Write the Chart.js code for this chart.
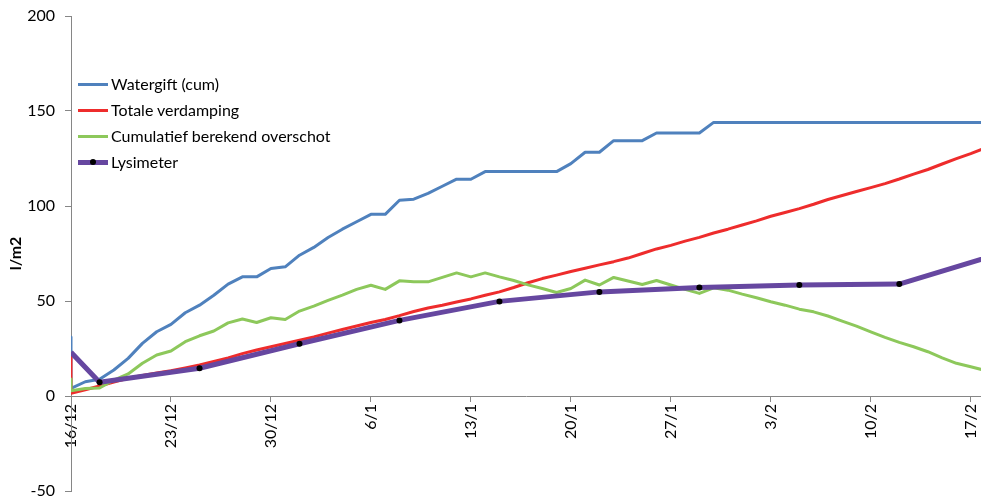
<!DOCTYPE html>
<html lang="nl">
<head>
  <meta charset="UTF-8" />
  <title>Lysimeter vs berekend overschot</title>
  <style>
    html, body {
      margin: 0;
      background: #fff;
      overflow: hidden;
      font-family: Lato, "Open Sans", sans-serif;
    }

    /* iets breder dan het venster: het plotvlak loopt door tot de rand */
    #wrap {
      position: relative;
      width: 985px;
      height: 502px;
    }

    /* legenda staat in het plotvlak, links boven */
    #legenda {
      position: absolute;
      left: 78px;
      top: 71px;
      font-size: 16px;
      color: #000;
    }

    #legenda .item {
      position: relative;
      height: 26px;
      line-height: 26px;
      padding-left: 33px;
      white-space: nowrap;
    }

    #legenda .lijn {
      position: absolute;
      left: 0;
      top: 13px;
      width: 30px;
    }

    #legenda .stip {
      position: absolute;
      left: 12px;
      width: 6px;
      height: 6px;
      border-radius: 50%;
      background: #000;
    }
  </style>
  <script src="https://cdn.jsdelivr.net/npm/chart.js"></script>
</head>
<body>

  <div id="wrap">
    <canvas id="grafiek"></canvas>
    <div id="legenda"></div>
  </div>

  <script>
    // dagen na 16/12 (de eerste dag komt twee keer voor: beginstand)
    const dagen = [0, 0, 1, 2, 3, 4, 5, 6, 7, 8, 9, 10, 11, 12, 13, 14, 15, 16, 17, 18, 19, 20,
      21, 22, 23, 24, 25, 26, 27, 28, 29, 30, 31, 32, 33, 34, 35, 36, 37, 38, 39, 40, 41, 42,
      43, 44, 45, 46, 47, 48, 49, 50, 51, 52, 53, 54, 55, 56, 57, 58, 59, 60, 61, 62, 63, 64];

    const watergift = [31, 4, 7.5, 8.8, 13.7, 19.8, 27.7, 33.8, 37.7, 43.8, 47.8, 53, 58.9, 62.7,
      62.7, 67.1, 68, 74.1, 78.2, 83.4, 87.8, 91.7, 95.6, 95.6, 103, 103.6, 106.6, 110.4, 114.1,
      114.1, 118.1, 118.1, 118.1, 118.1, 118.1, 118.1, 122.3, 128.3, 128.3, 134.4, 134.4, 134.4,
      138.4, 138.4, 138.4, 138.4, 144, 144, 144, 144, 144, 144, 144, 144, 144, 144, 144, 144,
      144, 144, 144, 144, 144, 144, 144, 144];

    const verdamping = [22.5, 1.4, 3.3, 5.3, 7.3, 9.3, 10.8, 12.1, 13.3, 14.8, 16.3, 18.2, 20,
      22.3, 24.2, 25.9, 27.6, 29.3, 31.1, 33.1, 35, 36.8, 38.7, 40.3, 42.3, 44.5, 46.3, 47.8,
      49.5, 51.1, 53, 54.8, 57.1, 59.6, 61.8, 63.6, 65.5, 67.2, 69, 70.7, 72.6, 75, 77.4, 79.3,
      81.5, 83.5, 85.8, 87.8, 90, 92.2, 94.6, 96.6, 98.6, 100.9, 103.4, 105.5, 107.6, 109.7,
      111.8, 114.2, 116.8, 119.2, 122.1, 124.9, 127.6, 130.5];

    const overschot = [9, 2.8, 4.0, 4.2, 8.4, 11.6, 17.2, 21.6, 23.7, 28.6, 31.7, 34.2, 38.5,
      40.5, 38.7, 41.2, 40.3, 44.7, 47.3, 50.3, 53.1, 56.1, 58.3, 56.1, 60.6, 60.1, 60.1, 62.4,
      64.8, 62.7, 64.8, 62.7, 60.8, 58.5, 56.6, 54.5, 56.6, 61, 58.4, 62.4, 60.5, 58.7, 60.8,
      58.4, 56.1, 54, 56.9, 55.7, 53.6, 51.7, 49.6, 47.8, 45.7, 44.3, 42.1, 39.4, 36.8, 33.8,
      30.9, 28.2, 25.9, 23.3, 20.1, 17.2, 15.4, 13.5];

    // lysimeter: wekelijkse metingen
    const lysDagen = [0, 2, 9, 16, 23, 30, 37, 44, 51, 58, 65];
    const lysimeter = [23, 7.2, 14.6, 27.5, 39.8, 49.8, 54.8, 57.1, 58.4, 58.9, 74.8];

    // asverdeling
    const tickDagen = [0, 7, 14, 21, 28, 35, 42, 49, 56, 63];
    const yTicks = [-50, 0, 50, 100, 150, 200];

    const startDatum = new Date(2012, 11, 16);
    function datumLabel(dag) {
      const d = new Date(startDatum.getFullYear(), startDatum.getMonth(), startDatum.getDate() + dag);
      return d.getDate() + '/' + (d.getMonth() + 1);
    }

    function punten(xs, ys) {
      return xs.map((x, i) => ({ x: x, y: ys[i] }));
    }

    const lettertype = { family: 'Lato, "Open Sans", sans-serif', size: 16 };
    const asKleur = '#868686';
    const geenPadding = () => ({ left: 0, top: 0, right: 0, bottom: 0 });

    const reeksen = [
      { label: 'Watergift (cum)', data: punten(dagen, watergift), borderColor: '#4F81BD', borderWidth: 3, order: 3 },
      { label: 'Totale verdamping', data: punten(dagen, verdamping), borderColor: '#EE2C2C', borderWidth: 3, order: 2 },
      { label: 'Cumulatief berekend overschot', data: punten(dagen, overschot), borderColor: '#8DC85B', borderWidth: 3, order: 1 },
      {
        label: 'Lysimeter', data: punten(lysDagen, lysimeter), borderColor: '#6647A0', borderWidth: 5, order: 0,
        pointRadius: ctx => ctx.dataIndex === 0 ? 0 : 3,
        pointBackgroundColor: '#000', pointBorderWidth: 0
      }
    ];

    reeksen.forEach(r => {
      r.fill = false;
      r.tension = 0;
      if (r.pointRadius === undefined) r.pointRadius = 0;
      r.borderJoinStyle = 'round';
    });

    new Chart(document.getElementById('grafiek'), {
      type: 'line',
      data: { datasets: reeksen },
      options: {
        responsive: true,
        maintainAspectRatio: false,
        animation: false,
        layout: { padding: { top: 16, right: 0, bottom: 11, left: 0 } },
        plugins: {
          legend: { display: false },
          tooltip: { enabled: false }
        },
        scales: {
          x: {
            type: 'linear',
            min: 0,
            max: 63.72,
            position: { y: 0 },
            border: { color: asKleur },
            grid: { drawOnChartArea: false, drawTicks: true, tickLength: 5, color: asKleur },
            afterBuildTicks: s => { s.ticks = tickDagen.map(v => ({ value: v })); },
            afterFit: s => { s.paddingLeft = 0; s.paddingRight = 0; s.getPadding = geenPadding; },
            ticks: {
              autoSkip: false,
              minRotation: 90,
              maxRotation: 90,
              padding: 3,
              color: '#000',
              font: lettertype,
              callback: v => datumLabel(v)
            }
          },
          y: {
            min: -50,
            max: 200,
            border: { color: asKleur },
            grid: { drawOnChartArea: false, drawTicks: true, tickLength: 6, color: asKleur },
            afterBuildTicks: s => { s.ticks = yTicks.map(v => ({ value: v })); },
            afterFit: s => { s.width = 71; s.paddingTop = 0; s.paddingBottom = 0; s.getPadding = geenPadding; },
            ticks: { padding: 10, color: '#000', font: lettertype },
            title: {
              display: true,
              text: 'l/m2',
              color: '#000',
              font: { family: lettertype.family, size: 16, weight: 'bold' },
              padding: { top: 6, bottom: 0 }
            }
          }
        }
      }
    });

    // legenda opbouwen uit de reeksen
    const legenda = document.getElementById('legenda');
    reeksen.forEach(r => {
      const item = document.createElement('div');
      item.className = 'item';
      const lijn = document.createElement('span');
      lijn.className = 'lijn';
      lijn.style.height = r.borderWidth + 'px';
      lijn.style.marginTop = (-Math.floor(r.borderWidth / 2)) + 'px';
      lijn.style.background = r.borderColor;
      item.appendChild(lijn);
      if (r.label === 'Lysimeter') {
        const stip = document.createElement('span');
        stip.className = 'stip';
        stip.style.top = '10px';
        item.appendChild(stip);
      }
      item.appendChild(document.createTextNode(r.label));
      legenda.appendChild(item);
    });
  </script>

</body>
</html>
